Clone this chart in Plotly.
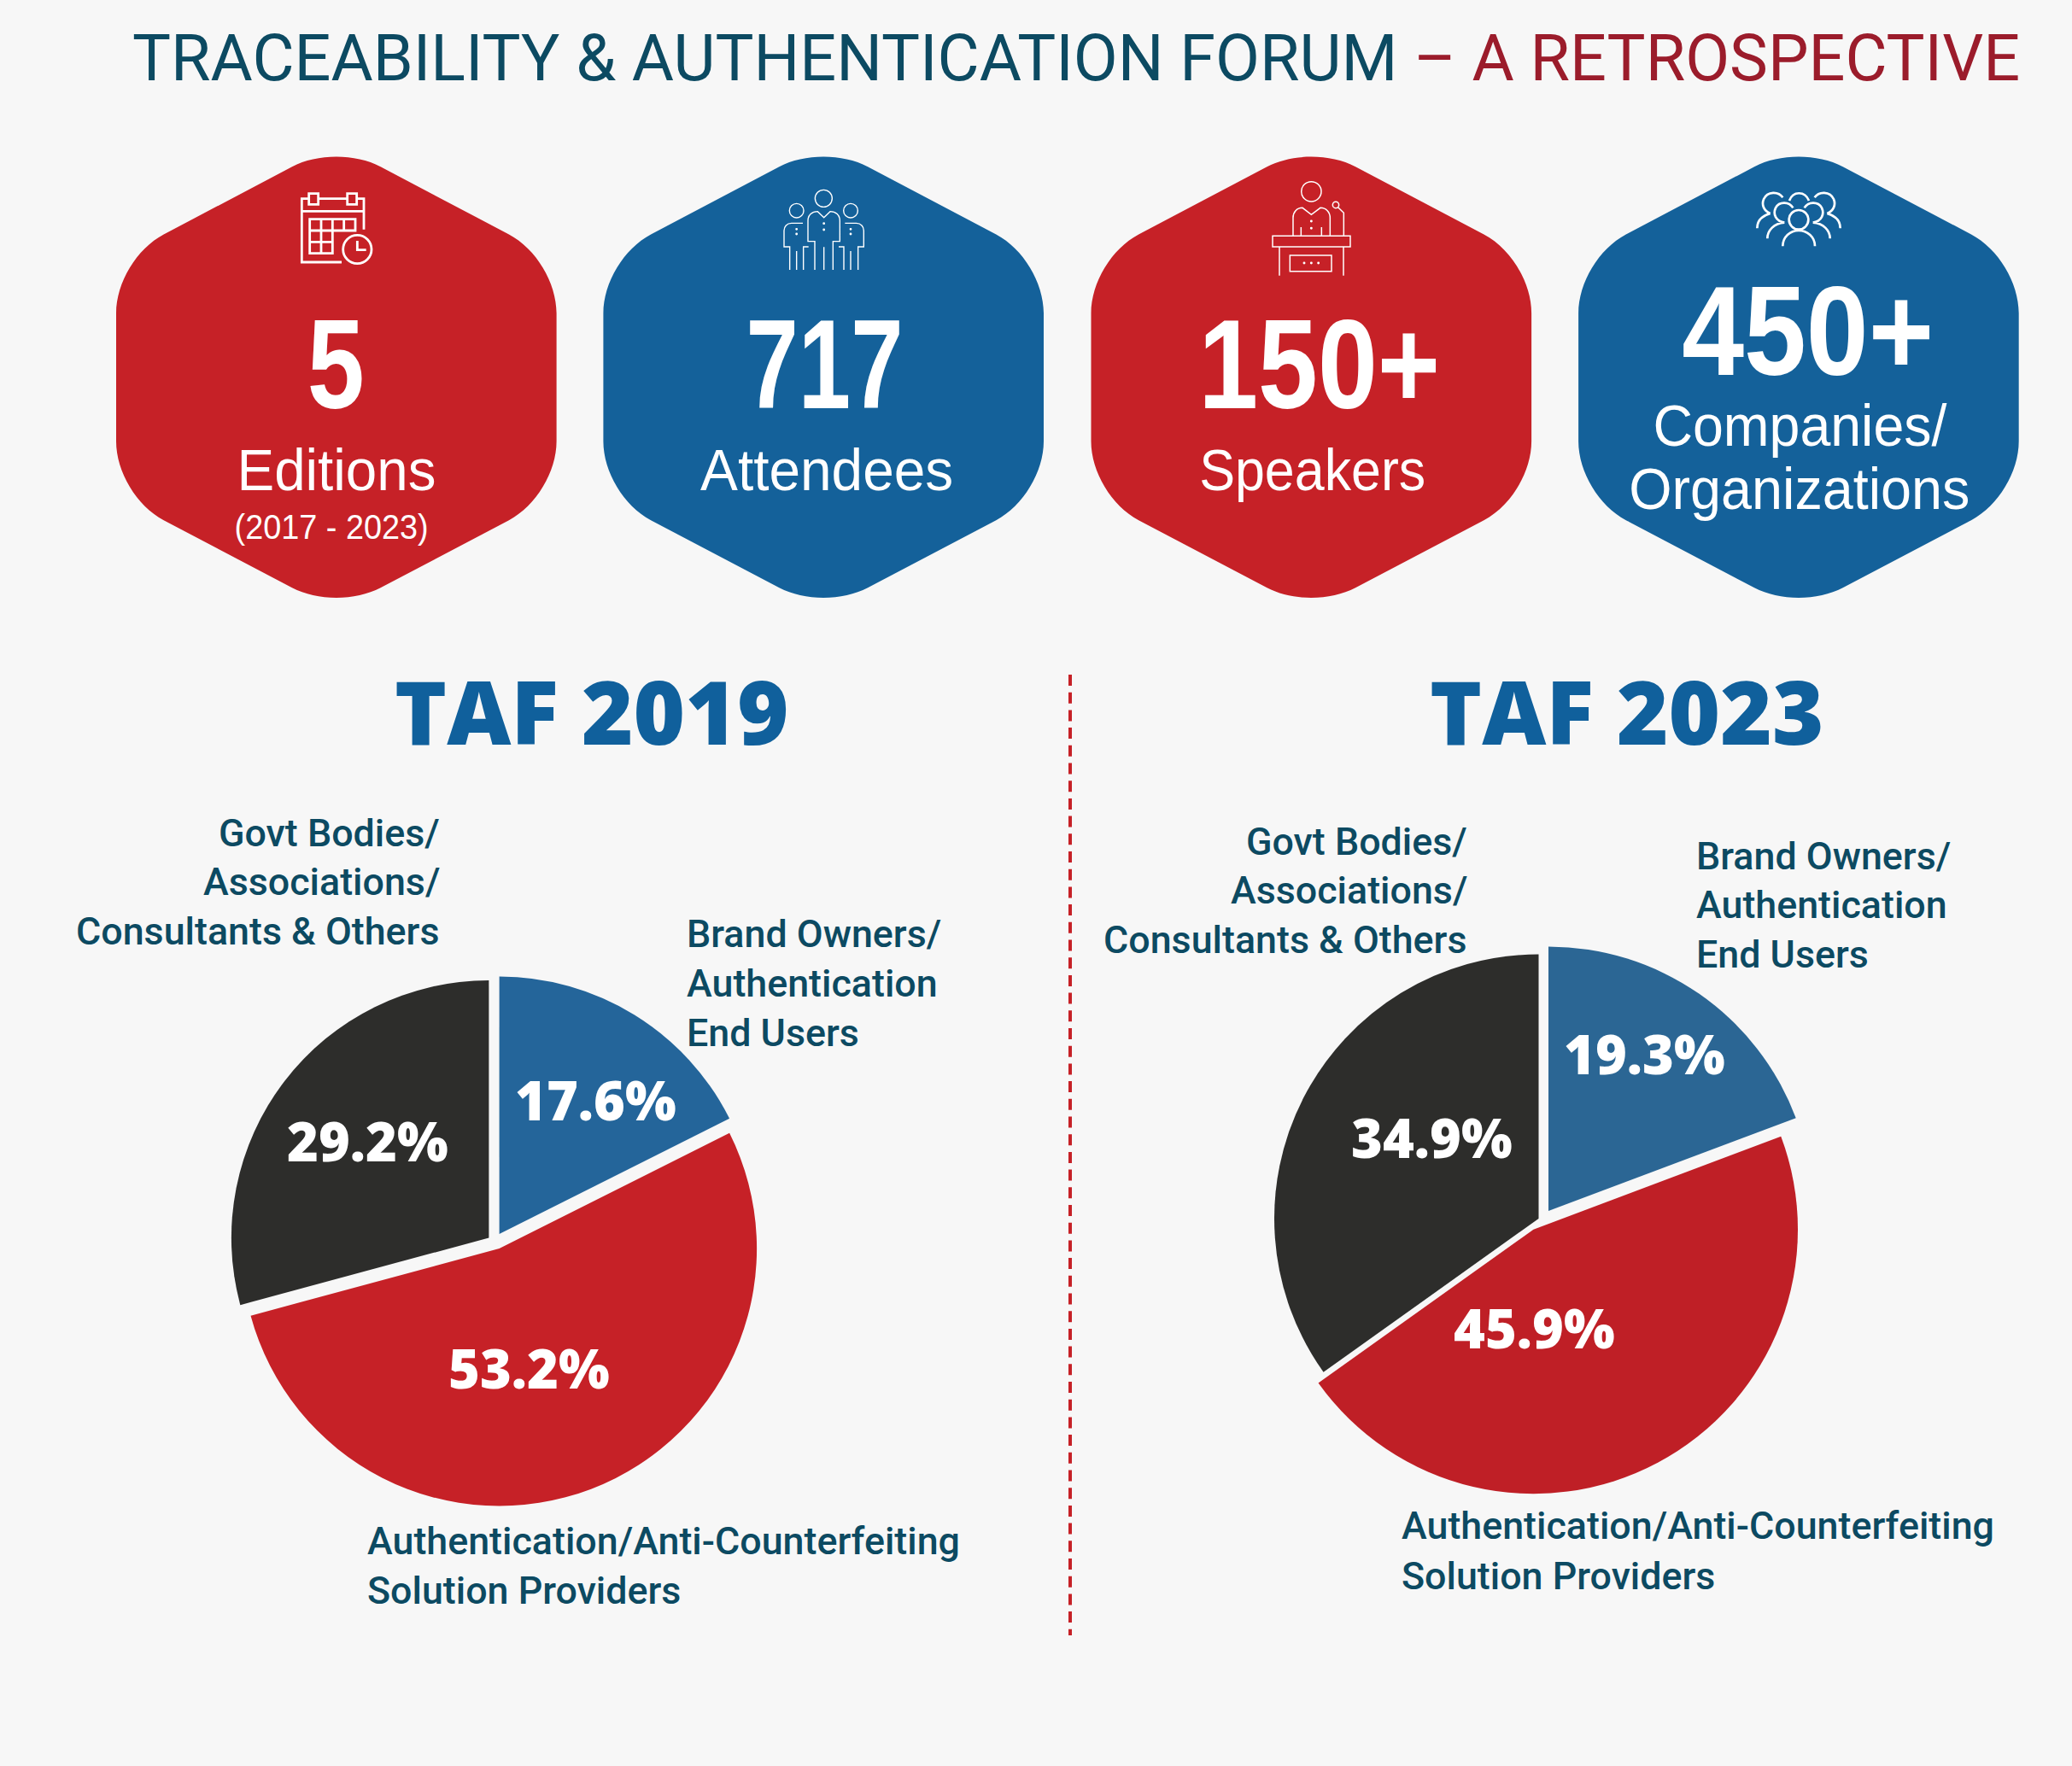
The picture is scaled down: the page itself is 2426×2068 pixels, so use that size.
import json
import plotly.graph_objects as go

W, H = 2426, 2068
BG = "#F7F7F7"
RED, BLUE = "#C62127", "#14619A"
TEAL, TITLE_RED = "#0C4A62", "#9B1C2B"

# ---- data ----
title_main = "TRACEABILITY &amp; AUTHENTICATION FORUM"
title_tail = " – A RETROSPECTIVE"
segments = ["Brand Owners", "Solution Providers", "Others"]
taf_2019 = [17.6, 53.2, 29.2]
taf_2023 = [19.3, 45.9, 34.9]
colors_2019 = ["#24659A", "#C62127", "#2D2D2B"]
colors_2023 = ["#2B6694", "#BF1F26", "#2D2D2B"]
stat_values = ["5", "717", "150+", "450+"]
brand_lines = ["Brand Owners/", "Authentication", "End Users"]
govt_lines = ["Govt Bodies/", "Associations/", "Consultants &amp; Others"]
sol_lines = ["Authentication/Anti-Counterfeiting", "Solution Providers"]

# widths the condensed stat texts occupy (no narrow face is installed)
narrow_widths = {"5": 67, "717": 184, "150+": 283, "450+": 295, "Editions": 233,
                 "(2017 - 2023)": 227, "Attendees": 296, "Speakers": 265,
                 "Companies/": 344, "Organizations": 399}

# ---- pixel helpers ----
def px(x): return x / W
def py(y): return 1 - y / H
def P(x, y): return f"{px(x):.5f},{py(y):.5f}"

shapes, annots = [], []

def ann(text, x, y, size, color, family, weight=400, anchor="center"):
    annots.append(dict(text=text, x=px(x), y=py(y), xref="paper", yref="paper",
                       xanchor=anchor, yanchor="middle", showarrow=False, borderpad=0,
                       font=dict(size=size, color=color, family=family, weight=weight)))

# rounded hexagons
def hex_path(cx):
    hw, cy, k = 257.8, 441.8, 0.57
    top, side = 273.8, 138.0
    V = [(cx, cy - top), (cx + hw, cy - side), (cx + hw, cy + side),
         (cx, cy + top), (cx - hw, cy + side), (cx - hw, cy - side)]
    dist = [(51.8 / 257.8, 51.8 / 257.8), (55.7 / 257.8, 63 / 276),
            (63 / 276, 55.7 / 257.8), (51.8 / 257.8, 51.8 / 257.8),
            (55.7 / 257.8, 63 / 276), (63 / 276, 55.7 / 257.8)]
    d = ""
    for i, v in enumerate(V):
        a, b = V[i - 1], V[(i + 1) % 6]
        ta, tb = dist[i]
        p0 = (v[0] + (a[0] - v[0]) * ta, v[1] + (a[1] - v[1]) * ta)
        p1 = (v[0] + (b[0] - v[0]) * tb, v[1] + (b[1] - v[1]) * tb)
        c0 = (p0[0] + (v[0] - p0[0]) * k, p0[1] + (v[1] - p0[1]) * k)
        c1 = (p1[0] + (v[0] - p1[0]) * k, p1[1] + (v[1] - p1[1]) * k)
        d += ("M " if i == 0 else "L ") + P(*p0) + f" C {P(*c0)} {P(*c1)} {P(*p1)} "
    return d + "Z"

hex_cx = [393.8, 964.2, 1535.3, 2105.9]
hex_col = [RED, BLUE, RED, BLUE]
for cx, c in zip(hex_cx, hex_col):
    shapes.append(dict(type="path", path=hex_path(cx), xref="paper", yref="paper",
                       fillcolor=c, line=dict(width=0), layer="below"))

# ---- icons: authored in 3x crop coordinates, mapped by (ox, oy) ----
class Icon:
    def __init__(self, ox, oy, lw):
        self.ox, self.oy, self.lw, self.d = ox, oy, lw, []
    def T(self, x, y): return P(self.ox + x / 3, self.oy + y / 3)
    def poly(self, *pts, close=False):
        s = "M " + " L ".join(self.T(*p) for p in pts)
        self.d.append(s + (" Z" if close else ""))
    def curve(self, start, *segs):
        s = "M " + self.T(*start)
        for c1, c2, e in segs:
            s += f" C {self.T(*c1)} {self.T(*c2)} {self.T(*e)}"
        self.d.append(s)
    def circle(self, x, y, r):
        k = 0.5523 * r
        self.curve((x + r, y),
                   ((x + r, y + k), (x + k, y + r), (x, y + r)),
                   ((x - k, y + r), (x - r, y + k), (x - r, y)),
                   ((x - r, y - k), (x - k, y - r), (x, y - r)),
                   ((x + k, y - r), (x + r, y - k), (x + r, y)))
    def rect(self, x0, y0, x1, y1):
        self.poly((x0, y0), (x1, y0), (x1, y1), (x0, y1), close=True)
    def dots(self, *pts):
        for x, y in pts:
            self.circle(x, y, 2.2)
    def flush(self):
        shapes.append(dict(type="path", path=" ".join(self.d), xref="paper", yref="paper",
                           line=dict(color="white", width=self.lw), layer="above"))

# calendar
ic = Icon(320, 190, 2.8)
ic.poly((240, 351), (100, 351), (100, 128), (125, 128))
ic.poly((160, 128), (258, 128))
ic.poly((295, 128), (318, 128), (318, 236))
ic.poly((100, 172), (318, 172))
ic.rect(125, 110, 158, 148)
ic.rect(260, 110, 293, 148)
ic.poly((128, 200), (288, 200), (288, 240), (208, 240), (208, 320), (128, 320), close=True)
ic.poly((168, 200), (168, 320))
ic.poly((208, 200), (208, 240))
ic.poly((248, 200), (248, 240))
ic.poly((128, 240), (208, 240))
ic.poly((128, 280), (208, 280))
ic.circle(295, 306, 50)
ic.poly((295, 276), (295, 308), (326, 308))
ic.flush()

# attendees
ic = Icon(880, 190, 1.4)
ic.circle(253, 127, 30)
ic.circle(158, 170, 25)
ic.circle(348, 170, 25)
ic.curve((222, 378), ((222, 378), (222, 278), (222, 278)), ((222, 278), (198, 278), (198, 278)),
         ((198, 278), (198, 205), (198, 205)), ((198, 185), (212, 173), (232, 173)),
         ((232, 173), (254, 194), (254, 194)), ((254, 194), (276, 173), (276, 173)),
         ((296, 173), (310, 185), (310, 205)), ((310, 205), (310, 278), (310, 278)),
         ((310, 278), (286, 278), (286, 278)), ((286, 278), (286, 378), (286, 378)))
ic.poly((254, 298), (254, 378))
ic.dots((254, 215), (254, 237), (158, 235), (158, 252), (348, 235), (348, 252))
ic.curve((180, 214), ((180, 214), (140, 214), (140, 214)), ((124, 214), (114, 226), (114, 240)),
         ((114, 240), (114, 297), (114, 297)), ((114, 297), (134, 297), (134, 297)),
         ((134, 297), (134, 378), (134, 378)))
ic.poly((158, 312), (158, 378))
ic.poly((182, 378), (182, 297), (200, 297))
ic.curve((328, 214), ((328, 214), (368, 214), (368, 214)), ((384, 214), (394, 226), (394, 240)),
         ((394, 240), (394, 297), (394, 297)), ((394, 297), (374, 297), (374, 297)),
         ((374, 297), (374, 378), (374, 378)))
ic.poly((348, 312), (348, 378))
ic.poly((324, 378), (324, 297), (306, 297))
ic.flush()

# speaker
ic = Icon(1440, 190, 1.5)
ic.circle(286, 103, 35)
ic.curve((222, 258), ((222, 258), (222, 195), (222, 195)), ((222, 175), (235, 160), (255, 160)),
         ((255, 160), (286, 184), (286, 184)), ((286, 184), (318, 160), (318, 160)),
         ((338, 160), (352, 175), (352, 195)), ((352, 195), (352, 258), (352, 258)))
ic.poly((250, 228), (250, 258))
ic.poly((322, 228), (322, 258))
ic.dots((286, 207), (286, 232), (261, 354), (286, 354), (311, 354))
ic.circle(372, 150, 11)
ic.poly((380, 158), (400, 178), (400, 258))
ic.rect(150, 259, 423, 297)
ic.poly((174, 297), (174, 398))
ic.poly((399, 297), (399, 398))
ic.rect(211, 327, 357, 383)
ic.flush()

# companies group
ic = Icon(2010, 190, 2.7)
ic.circle(288, 202, 34)
ic.curve((232, 295), ((232, 262), (258, 240), (288, 240)), ((318, 240), (345, 262), (345, 295)))
for m in (False, True):
    f = (lambda p: (576 - p[0], p[1])) if m else (lambda p: p)
    ic.curve(f((268, 160)), (f((255, 138)), f((220, 136)), f((207, 160))),
             (f((197, 182)), f((207, 207)), f((238, 212))))
    ic.curve(f((178, 268)), (f((178, 240)), f((200, 215)), f((238, 212))))
    ic.curve(f((232, 124)), (f((218, 102)), f((178, 100)), f((165, 130))),
             (f((157, 150)), f((165, 170)), f((188, 180))))
    ic.curve(f((142, 232)), (f((142, 205)), f((160, 188)), f((188, 180))))
ic.curve((255, 135), ((268, 100), (310, 100), (324, 135)))
ic.flush()

# separator
shapes.append(dict(type="line", xref="paper", yref="paper", x0=px(1253), x1=px(1253),
                   y0=py(790), y1=py(1915), line=dict(color=RED, width=4, dash="13px,7.7px")))

# ---- pies: one trace per slice so each wedge keeps the offset seen in the picture ----
def add_pie(fig, values, colors, centers, radius):
    start = 0.0
    for v, c, (cx, cy), name in zip(values, colors, centers, segments):
        fig.add_trace(go.Pie(
            values=[v, sum(values) - v], labels=[name, "rest"], sort=False,
            direction="clockwise", rotation=start / sum(values) * 360,
            marker=dict(colors=[c, "rgba(0,0,0,0)"], line=dict(width=0)),
            textinfo="none", hoverinfo="skip", showlegend=False,
            domain=dict(x=[px(cx - radius), px(cx + radius)],
                        y=[py(cy + radius), py(cy - radius)])))
        start += v

fig = go.Figure()
add_pie(fig, taf_2019, colors_2019, [(584.6, 1445), (584.6, 1462), (572.4, 1449.5)], 301.5)
add_pie(fig, taf_2023, colors_2023, [(1813, 1418), (1795.5, 1439.7), (1801.5, 1427)], 309.5)

# ---- texts ----
ROB, NARROW, OPEN = "Roboto", "Liberation Sans", "Open Sans"
ann(f"{title_main}<span style='color:{TITLE_RED}'>{title_tail}</span>", 1259.5, 68, 75.5, TEAL, ROB)

SS = 148
ann(stat_values[0], 393.4, 426, SS, "white", NARROW, 700)
ann(stat_values[1], 965.4, 426, SS, "white", NARROW, 700)
ann(stat_values[2], 1544.8, 426, SS, "white", NARROW, 700)
ann(stat_values[3], 2116.5, 388, SS, "white", NARROW, 700)
ann("Editions", 394, 550, 68, "white", NARROW)
ann("(2017 - 2023)", 388, 617, 40, "white", NARROW)
ann("Attendees", 967.6, 550, 68, "white", NARROW)
ann("Speakers", 1536.4, 550, 68, "white", NARROW)
ann("Companies/", 2107.7, 498, 68, "white", NARROW)
ann("Organizations", 2107, 572, 68, "white", NARROW)

ann("TAF 2019", 693, 831, 103.5, "#10609C", OPEN, 800)
ann("TAF 2023", 1905.4, 831, 103.5, "#10609C", OPEN, 800)

LS = 44.8
for t, y in zip(govt_lines, [975, 1032, 1090]):
    ann(t, 515.5, y, LS, TEAL, ROB, 500, "right")
for t, y in zip(brand_lines, [1093, 1151, 1209]):
    ann(t, 803, y, LS, TEAL, ROB, 500, "left")
for t, y in zip(sol_lines, [1804.5, 1862]):
    ann(t, 429, y, LS, TEAL, ROB, 500, "left")
for t, y in zip(govt_lines, [985, 1042, 1100.5]):
    ann(t, 1719, y, LS, TEAL, ROB, 500, "right")
for t, y in zip(brand_lines, [1002, 1059, 1117.5]):
    ann(t, 1985, y, LS, TEAL, ROB, 500, "left")
for t, y in zip(sol_lines, [1786, 1845]):
    ann(t, 1640, y, LS, TEAL, ROB, 500, "left")

PS = 63
for v, (x, y) in zip(taf_2019, [(697, 1287), (619.7, 1601.5), (430, 1335.5)]):
    ann(f"{v}%", x, y, PS, "white", OPEN, 800)
for v, (x, y) in zip(taf_2023, [(1925.6, 1233), (1796.2, 1554.5), (1676.9, 1331.5)]):
    ann(f"{v}%", x, y, PS, "white", OPEN, 800)

fig.update_layout(width=W, height=H, autosize=False, margin=dict(l=0, r=0, t=0, b=0),
                  paper_bgcolor=BG, plot_bgcolor=BG, showlegend=False,
                  shapes=shapes, annotations=annots, hovermode=False)

squeeze = """
document.body.style.margin='0';document.body.style.background='%s';
var NW=%s;
function squeeze(){document.querySelectorAll('text.annotation-text').forEach(function(t){
  var w=NW[t.textContent]; if(w){t.setAttribute('textLength',w);t.setAttribute('lengthAdjust','spacingAndGlyphs');}
});}
squeeze();setTimeout(squeeze,100);setTimeout(squeeze,500);
""" % (BG, json.dumps(narrow_widths))
fig.write_html("out.html", config=dict(displayModeBar=False, responsive=False), post_script=squeeze)
